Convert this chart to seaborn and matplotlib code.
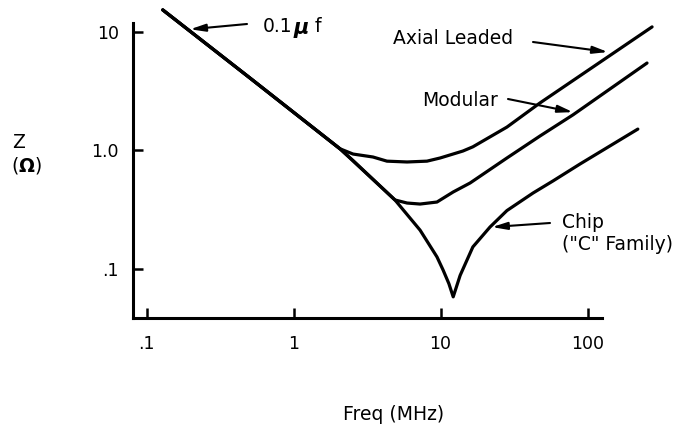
import matplotlib
matplotlib.use("Agg")
import matplotlib.pyplot as plt
import numpy as np
import pandas as pd
import seaborn as sns

# ---------------- data ----------------
# common capacitor trunk (0.1 uF line), continues down into the chip notch
trunk_f = [0.129, 0.506, 2.07, 2.54, 4.90, 7.26, 8.3, 9.46, 10.4, 11.4, 12.2]
trunk_z = [15.3, 4.07, 1.03, 0.82, 0.381, 0.212, 0.163, 0.126, 0.098, 0.075, 0.058]

axial_f = [2.54, 3.47, 4.32, 5.92, 8.09, 9.93, 14.2, 16.6, 28.3, 47.5, 275]
axial_z = [0.93, 0.878, 0.81, 0.797, 0.81, 0.861, 0.986, 1.07, 1.57, 2.51, 11.0]

modular_f = [5.92, 7.26, 9.46, 12.2, 15.9, 28.3, 47.5, 79.6, 254]
modular_z = [0.359, 0.352, 0.366, 0.445, 0.530, 0.861, 1.32, 1.99, 5.45]

chip_f = [13.6, 16.6, 21.7, 28.3, 42.6, 58.2, 88.9, 220]
chip_z = [0.088, 0.153, 0.225, 0.31, 0.436, 0.551, 0.766, 1.51]

x_ticks = [0.1, 1, 10, 100]
x_ticklabels = [".1", "1", "10", "100"]
y_ticks = [0.1, 1, 10]
y_ticklabels = [".1", "1.0", "10"]

# ---------------- build long table ----------------
rows = []
for name, f, z in [
    ("Axial Leaded", trunk_f[:3] + axial_f, trunk_z[:3] + axial_z),
    ("Modular", trunk_f[:5] + modular_f, trunk_z[:5] + modular_z),
    ("Chip", trunk_f[:3] + trunk_f[4:] + chip_f, trunk_z[:3] + trunk_z[4:] + chip_z),
]:
    for a, b in zip(f, z):
        rows.append({"series": name, "f": a, "z": b})
df = pd.DataFrame(rows)

sns.set_style("ticks")
plt.rcParams["font.family"] = ["DejaVu Sans"]
plt.rcParams["text.color"] = "black"

W, H = 681, 429
fig = plt.figure(figsize=(W / 100, H / 100), dpi=100)
ax = fig.add_axes([133 / W, 1 - 318 / H, (W - 133) / W, 318 / H])
ax.patch.set_alpha(0)

sns.lineplot(data=df, x="f", y="z", hue="series",
             palette={"Axial Leaded": "black", "Modular": "black", "Chip": "black"},
             estimator=None, sort=False, lw=2.3, legend=False, ax=ax)
for ln in ax.lines:
    ln.set_solid_joinstyle("round")

ax.set_xscale("log")
ax.set_yscale("log")
ax.set_xlim(0.0809, 432.6)
ax.set_ylim(0.03845, 18.55)

for s in ["top", "right"]:
    ax.spines[s].set_visible(False)
ax.spines["left"].set_bounds(0.03845, 11.87)
ax.spines["bottom"].set_bounds(0.0809, 125.6)
for s in ["left", "bottom"]:
    ax.spines[s].set_linewidth(2.2)
    ax.spines[s].set_color("black")

ax.set_xticks(x_ticks)
ax.set_xticklabels(x_ticklabels)
ax.set_yticks(y_ticks)
ax.set_yticklabels(y_ticklabels)
ax.xaxis.set_minor_locator(matplotlib.ticker.NullLocator())
ax.yaxis.set_minor_locator(matplotlib.ticker.NullLocator())
ax.tick_params(axis="both", direction="in", length=7, width=1.8,
               labelsize=12.5, colors="black")
ax.tick_params(axis="x", pad=12)
ax.tick_params(axis="y", pad=10)
ax.set_xlabel("")
ax.set_ylabel("")


def fp(x, y):
    """reference pixel (from top-left) -> figure fraction"""
    return x / W, 1 - y / H


# axis titles
fig.text(*fp(343, 415), "Freq (MHz)", fontsize=13.5, ha="left", va="center")
fig.text(*fp(12, 143), "Z", fontsize=13.5, ha="left", va="center")
fig.text(*fp(11, 166), r"($\mathbf{\Omega}$)", fontsize=13.5, ha="left", va="center")

# curve labels
fig.text(*fp(263, 27), "0.1", fontsize=13.5, ha="left", va="center")
fig.text(*fp(294, 28), "\u00b5", fontsize=15, fontweight="bold", fontstyle="italic",
         ha="left", va="center")
fig.text(*fp(315, 27), "f", fontsize=13.5, ha="left", va="center")
fig.text(*fp(393, 38), "Axial Leaded", fontsize=13.5, ha="left", va="center")
fig.text(*fp(422, 100), "Modular", fontsize=13.5, ha="left", va="center")
fig.text(*fp(562, 222), "Chip", fontsize=13.5, ha="left", va="center")
fig.text(*fp(562, 245), "(\"C\" Family)", fontsize=13.5, ha="left", va="center")

arrow_kw = dict(arrowstyle="-|>,head_length=0.9,head_width=0.22", color="black",
                lw=1.5, shrinkA=0, shrinkB=0)
arrows = [
    ((0.198, 10.5), (247, 24)),
    ((137.7, 6.75), (533, 42)),
    ((79.6, 2.10), (508, 99)),
    ((22.4, 0.225), (550, 223)),
]
for head, tail in arrows:
    ax.annotate("", xy=head, xycoords="data",
                xytext=(tail[0], H - tail[1]), textcoords="figure pixels",
                arrowprops=arrow_kw, annotation_clip=False)

fig.savefig("out.png", dpi=100)
